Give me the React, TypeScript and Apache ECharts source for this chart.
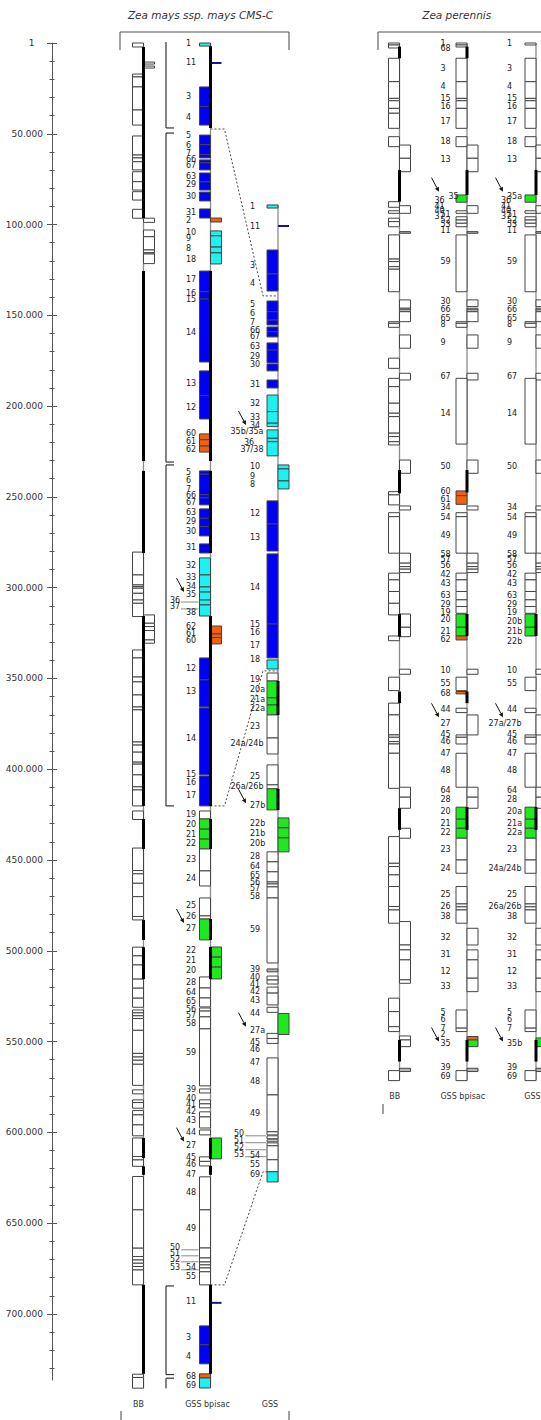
import React, { useEffect, useRef } from "react";
import * as echarts from "echarts";

// ---------- data (genome positions in kb) ----------
type Stack = [string, string, number[]]; // kind (L left box, R right box, K thick line, T thin tick), colour, boundaries
type Label = [number, string, number?]; // kb, text, placement flag

const AXIS_MAX = 736.4;
const majorStep = 50;
const minorStep = 10;

const cmsBB: Stack[] = [
  ["L", "w", [0, 2.2]], ["K", "", [2.2, 96.4]], ["R", "w", [10.5, 11.6]], ["R", "w", [12.7, 13.8]],
  ["L", "w", [17.1, 18.7, 24.2, 36.9, 45.2]], ["L", "w", [51.2, 61.7, 63.3, 65.4, 69.9]],
  ["L", "w", [70.9, 76.4, 81.0]], ["L", "w", [81.9, 86.5]], ["L", "w", [91.6, 96.5]], ["R", "w", [96.5, 98.8]],
  ["R", "w", [103.0, 106.7, 114.0, 115.5, 116.2, 121.5]], ["K", "", [125.6, 230.2]], ["K", "", [235.7, 280.9]],
  ["L", "w", [280.4, 293.0, 298.5, 299.4, 300.3, 303.1, 306.8, 308.6, 315.9]],
  ["R", "w", [315.0, 319.6, 321.4, 323.6, 328.8, 330.6]], ["K", "", [315.6, 420.2]],
  ["L", "w", [334.3, 338.7, 349.2, 351.9, 359.1, 365.7, 367.3, 385.0, 386.7, 390.6, 396.1, 397.2, 403.1, 409.7, 411.4, 420.2]],
  ["L", "w", [423.0, 427.7]], ["K", "", [427.4, 443.9]],
  ["L", "w", [443.4, 455.8, 457.6, 462.8, 470.2, 481.1, 483.0]], ["K", "", [483.0, 494.0]],
  ["L", "w", [498.0, 502.8, 507.8, 515.6, 520.6, 526.1, 531.1]], ["K", "", [498.0, 515.6]],
  ["L", "w", [532.6, 534.2, 535.8, 537.3, 543.8, 556.5, 558.5, 560.3, 562.5, 574.1]],
  ["L", "w", [576.6, 578.8]], ["L", "w", [582.1, 583.6, 586.7]], ["L", "w", [588.0, 590.4, 595.9, 601.9]],
  ["L", "w", [603.1, 614.1]], ["K", "", [603.1, 614.1]], ["L", "w", [613.3, 615.2, 618.7]], ["K", "", [618.7, 623.4]],
  ["L", "w", [624.3, 642.7, 663.8, 668.4, 670.3, 672.1, 673.9, 675.8, 684.0]], ["K", "", [684.0, 733.0]],
  ["L", "w", [733.2, 735.0, 740.9]],
];

const cmsBp: Stack[] = [
  ["L", "c", [0, 1.7]], ["K", "", [1.7, 46.8]], ["T", "n", [11.0]], ["L", "b", [24.2, 35.0, 45.2]],
  ["L", "b", [50.7, 56.0, 61.5, 63.3]], ["L", "b", [64.4, 66.0, 69.9]], ["L", "b", [71.6, 76.5, 81.0]],
  ["L", "b", [82.1, 87.0]], ["L", "b", [91.4, 96.4]], ["R", "o", [96.4, 98.6]],
  ["R", "c", [103.5, 106.2, 112.4, 115.6, 121.7]], ["K", "", [125.6, 230.2]],
  ["L", "b", [125.6, 137.0, 141.0, 175.7]], ["L", "b", [180.6, 194.2, 207.1]], ["L", "o", [215.3, 218.5, 222.0, 225.3]],
  ["L", "b", [235.7, 237.5, 248.8, 250.5, 254.4]], ["L", "b", [256.6, 261.8, 266.4, 271.5]], ["L", "b", [275.9, 280.9]],
  ["K", "", [235.7, 280.9]], ["L", "c", [283.6, 293.0, 299.6, 302.4, 306.8, 309.5, 315.6]],
  ["R", "o", [321.1, 325.5, 327.5, 331.0]], ["K", "", [315.6, 338.7]],
  ["L", "b", [338.7, 350.8, 365.7]], ["L", "b", [366.2, 403.1]], ["L", "b", [403.7, 420.2]], ["K", "", [338.7, 420.2]],
  ["L", "w", [423.0, 427.4]], ["L", "g", [427.4, 433.0, 438.5, 443.9]], ["K", "", [427.4, 443.9]],
  ["L", "w", [443.9, 456.0, 464.3]], ["L", "w", [470.9, 480.8, 482.5]], ["L", "g", [482.5, 494.0]], ["K", "", [482.5, 494.0]],
  ["R", "g", [497.9, 503.5, 509.0, 515.5]], ["K", "", [497.9, 515.5]],
  ["L", "w", [514.4, 520.5, 526.0, 530.9]], ["L", "w", [531.5, 533.2, 536.4, 543.0, 574.4]],
  ["L", "w", [576.1, 578.3]], ["L", "w", [582.1, 584.3, 586.5]], ["L", "w", [588.7, 591.5, 597.6]], ["L", "w", [598.7, 601.4]],
  ["R", "g", [603.1, 614.6]], ["K", "", [603.1, 614.6]], ["L", "w", [613.5, 616.0, 618.5]], ["K", "", [618.5, 623.4]],
  ["L", "w", [624.5, 642.7, 663.7]], ["L", "w", [663.7, 669.2, 671.4, 673.0, 674.7, 676.8, 684.0]],
  ["K", "", [684.0, 733.0]], ["T", "n", [693.9]], ["L", "b", [706.6, 717.0, 727.5]],
  ["L", "o", [733.0, 735.3]], ["L", "c", [735.3, 740.8]],
];

const cmsGss: Stack[] = [
  ["L", "c", [89.2, 90.9]], ["T", "n", [100.8]], ["L", "b", [114.0, 127.2, 136.6]],
  ["L", "b", [142.1, 148.0, 152.6, 155.3]], ["L", "b", [156.4, 159.0, 161.9]], ["L", "b", [165.2, 169.1, 176.2]],
  ["L", "b", [176.8, 180.6]], ["L", "b", [185.6, 190.0]], ["L", "c", [193.9, 203.0, 209.4, 211.3]],
  ["L", "c", [213.1, 217.7, 219.6, 227.4]], ["R", "c", [232.4, 234.6, 241.2, 245.6]],
  ["L", "b", [252.2, 264.9, 279.8]], ["L", "b", [281.4, 320.0, 338.7]], ["L", "c", [339.8, 344.8]],
  ["L", "w", [347.0, 351.4]], ["L", "g", [351.4, 360.7, 364.6, 370.1]], ["K", "", [351.4, 370.1]],
  ["L", "w", [370.1, 382.8]], ["L", "w", [382.8, 391.6]], ["L", "w", [397.6, 408.6, 410.8]],
  ["L", "g", [410.8, 422.4]], ["K", "", [410.8, 422.4]], ["R", "g", [426.8, 432.3, 437.8, 445.5]],
  ["L", "w", [445.5, 451.0, 456.5, 462.1, 463.2, 464.8, 470.9, 506.7]], ["L", "s", [510.0, 511.6]],
  ["L", "w", [513.9, 516.1, 518.3]], ["L", "w", [520.0, 523.3, 529.8]], ["L", "w", [531.1, 533.9]],
  ["R", "g", [534.5, 546.1]], ["L", "w", [545.5, 548.3, 551.0]], ["L", "w", [559.0, 579.4, 599.7]],
  ["L", "w", [599.7, 601.4]], ["L", "w", [601.9, 603.5]], ["L", "w", [604.1, 605.2]],
  ["L", "w", [605.8, 607.4, 615.1, 621.7]], ["L", "c", [621.7, 627.3]],
];

const perBB: Stack[] = [
  ["L", "w", [0, 1.1, 2.75]], ["K", "", [2.0, 8.4]], ["L", "w", [8.4, 21.3, 30.5, 31.8, 36.0, 38.7, 47.0]],
  ["L", "w", [51.6, 57.1]], ["R", "w", [56.2, 63.5, 70.9]], ["K", "", [70.0, 87.4]], ["L", "w", [87.4, 90.5]],
  ["R", "w", [89.6, 93.8]], ["L", "w", [92.4, 93.8]], ["L", "w", [96.5, 98.4, 101.2]], ["R", "s", [103.9, 104.8]],
  ["L", "w", [105.7, 119.0, 120.4, 123.2, 124.6, 137.0]], ["R", "w", [141.5, 146.1, 147.0, 148.0, 153.5]],
  ["L", "w", [153.5, 154.4, 156.6]], ["R", "w", [160.8, 168.1]], ["L", "w", [173.6, 179.2]], ["R", "w", [181.9, 185.6]],
  ["L", "w", [184.7, 189.3, 198.4, 203.9, 205.8, 214.9, 216.8, 219.6, 221.4]], ["R", "w", [229.7, 237.0]],
  ["K", "", [235.2, 248.0]], ["L", "w", [247.1, 248.9, 254.4]], ["R", "w", [255.0, 257.2]],
  ["L", "w", [258.7, 260.9, 281.0]], ["R", "w", [281.0, 286.5, 288.4, 289.8, 291.7]],
  ["L", "w", [292.0, 295.7, 302.1, 308.6, 315.0]], ["R", "w", [314.5, 321.8, 327.0]], ["K", "", [314.5, 327.0]],
  ["L", "w", [326.6, 329.2]], ["R", "w", [344.9, 347.7]], ["L", "w", [349.3, 356.7]], ["K", "", [357.2, 363.6]],
  ["L", "w", [363.6, 370.1, 381.1, 382.4, 384.8, 386.1, 391.2, 410.5]], ["R", "w", [409.9, 415.4, 421.5]],
  ["K", "", [421.5, 433.4]], ["R", "w", [432.5, 438.0]],
  ["L", "w", [437.1, 451.8, 453.6, 458.2, 464.6, 475.6, 477.5, 484.8]],
  ["R", "w", [483.9, 496.8, 499.5, 505.0, 516.0, 517.9]], ["L", "w", [526.1, 533.5, 541.8, 544.5]],
  ["R", "w", [546.9, 549.1, 552.8]], ["K", "", [549.1, 561.0]], ["R", "s", [564.7, 566.5]], ["L", "w", [566.0, 571.5]],
];

const perBp: Stack[] = [
  ["L", "w", [0, 1.1, 2.2]], ["K", "", [2.0, 8.4]], ["L", "w", [8.4, 21.3, 30.5, 31.8, 36.0, 47.0]],
  ["L", "w", [51.6, 57.1]], ["R", "w", [56.2, 63.5, 70.9]], ["K", "", [69.9, 83.7]], ["L", "g", [83.7, 87.7]],
  ["R", "w", [89.6, 93.8]], ["L", "w", [92.4, 93.8]], ["L", "w", [95.7, 97.5, 99.3, 101.2]], ["R", "s", [103.9, 104.8]],
  ["L", "w", [105.7, 137.0]], ["R", "w", [141.5, 145.2]], ["R", "w", [146.1, 147.0, 148.0, 153.5]],
  ["L", "w", [153.5, 154.4, 156.6]], ["R", "w", [160.8, 168.1]], ["R", "w", [181.9, 185.6]], ["L", "w", [184.7, 220.9]],
  ["R", "w", [229.7, 237.0]], ["K", "", [235.2, 247.6]], ["L", "o", [246.7, 249.3, 254.1]], ["R", "w", [255.0, 257.2]],
  ["L", "w", [258.7, 260.9, 281.0]], ["R", "w", [281.0, 286.5, 288.4, 289.8, 291.7]],
  ["L", "w", [292.0, 295.7, 302.1, 306.7, 310.4, 314.1]], ["L", "g", [314.5, 321.8, 326.6]], ["K", "", [314.5, 326.6]],
  ["L", "o", [326.6, 328.8]], ["R", "w", [344.9, 347.7]], ["L", "w", [349.3, 356.7]], ["L", "o", [357.2, 358.5]],
  ["K", "", [357.2, 363.6]], ["L", "w", [366.4, 368.8]], ["R", "w", [370.1, 381.1]], ["L", "w", [381.1, 382.4, 386.1]],
  ["L", "w", [391.2, 409.9]], ["R", "w", [409.9, 415.4, 421.5]], ["L", "g", [420.9, 427.5, 432.5, 438.0]],
  ["K", "", [420.9, 433.4]], ["L", "w", [438.0, 450.0, 457.3]], ["L", "w", [464.6, 474.2, 475.8, 477.5, 484.8]],
  ["R", "w", [487.6, 496.8]], ["R", "w", [499.5, 505.0, 515.1, 522.5]], ["L", "w", [532.6, 542.6, 544.5]],
  ["R", "o", [547.2, 549.1]], ["R", "g", [549.1, 552.8]], ["K", "", [549.1, 561.0]], ["R", "s", [564.7, 566.5]],
  ["L", "w", [566.0, 571.5]],
];

const perGss: Stack[] = [
  ["L", "w", [0, 1.1]], ["L", "w", [8.4, 21.3, 30.5, 31.8, 36.0, 47.0]],
  ["L", "w", [51.6, 57.1]], ["R", "w", [56.2, 63.5, 70.9]], ["K", "", [69.9, 83.7]], ["L", "g", [83.7, 87.7]],
  ["R", "w", [89.6, 93.8]], ["L", "w", [92.4, 93.8]], ["L", "w", [95.7, 97.5, 99.3, 101.2]], ["R", "s", [103.9, 104.8]],
  ["L", "w", [105.7, 137.0]], ["R", "w", [141.5, 145.2]], ["R", "w", [146.1, 147.0, 148.0, 153.5]],
  ["L", "w", [153.5, 154.4, 156.6]], ["R", "w", [160.8, 168.1]], ["R", "w", [181.9, 185.6]], ["L", "w", [184.7, 220.9]],
  ["R", "w", [229.7, 237.0]], ["R", "w", [255.0, 257.2]],
  ["L", "w", [258.7, 260.9, 281.0]], ["R", "w", [281.0, 286.5, 288.4, 289.8, 291.7]],
  ["L", "w", [292.0, 295.7, 302.1, 306.7, 310.4, 314.1]], ["L", "g", [314.5, 321.8, 326.6]], ["K", "", [314.5, 326.6]],
  ["R", "w", [344.9, 347.7]], ["L", "w", [349.3, 356.7]],
  ["L", "w", [366.4, 368.8]], ["R", "w", [370.1, 381.1]], ["L", "w", [381.1, 382.4, 386.1]],
  ["L", "w", [391.2, 409.9]], ["R", "w", [409.9, 415.4, 421.5]], ["L", "g", [420.9, 427.5, 432.5, 438.0]],
  ["K", "", [420.9, 433.4]], ["L", "w", [438.0, 450.0, 457.3]], ["L", "w", [464.6, 474.2, 475.8, 477.5, 484.8]],
  ["R", "w", [487.6, 496.8]], ["R", "w", [499.5, 505.0, 515.1, 522.5]], ["L", "w", [532.6, 542.6, 544.5]],
  ["R", "g", [548.0, 552.8]], ["K", "", [549.1, 561.0]], ["R", "s", [564.7, 566.5]],
  ["L", "w", [566.0, 571.5]],
];

const cmsBpLabels: Label[] = [
  [0, "1"], [11.0, "11"], [29.7, "3"], [41.3, "4"], [50.7, "5"], [56.2, "6"], [61.1, "7"], [63.9, "66"], [67.2, "67"],
  [73.8, "63"], [78.2, "29"], [84.3, "30"], [93.1, "31"], [98.0, "2"], [104.1, "10"], [107.9, "9"], [113.4, "8"],
  [119.5, "18"], [130.5, "17"], [137.7, "16"], [141.5, "15"], [159.7, "14"], [187.8, "13"], [201.0, "12"],
  [215.3, "60"], [219.7, "61"], [224.1, "62"], [236.3, "5"], [241.2, "6"], [246.2, "7"], [249.5, "66"], [253.3, "67"],
  [258.8, "63"], [263.8, "29"], [269.3, "30"], [277.6, "31"], [288.0, "32"], [294.6, "33"], [299.6, "34"], [304.0, "35"],
  [306.8, "36", 1], [310.6, "37", 1], [313.9, "38"], [321.6, "62"], [325.5, "61"], [329.3, "60"], [344.7, "12"],
  [357.4, "13"], [383.3, "14"], [403.1, "15"], [407.5, "16"], [414.7, "17"], [425.2, "19"], [430.7, "20"], [436.2, "21"],
  [441.1, "22"], [449.9, "23"], [460.4, "24"], [475.3, "25"], [481.3, "26"], [487.9, "27"], [500.1, "22"], [505.6, "21"],
  [511.1, "20"], [517.7, "28"], [523.2, "64"], [528.1, "65"], [532.5, "56"], [535.8, "57"], [540.2, "58"], [556.2, "59"],
  [576.6, "39"], [581.5, "40"], [584.9, "41"], [588.7, "42"], [593.7, "43"], [600.3, "44"], [607.4, "27"], [614.0, "45"],
  [617.9, "46"], [623.4, "47"], [633.3, "48"], [653.1, "49"], [663.6, "50", 1], [666.9, "51", 1], [670.2, "52", 1],
  [674.6, "53", 1], [674.6, "54"], [679.6, "55"], [693.4, "11"], [713.2, "3"], [723.7, "4"], [734.2, "68"], [739.2, "69"],
];

const cmsGssLabels: Label[] = [
  [90.3, "1"], [100.8, "11"], [122.3, "3"], [132.2, "4"], [144.3, "5"], [149.2, "6"], [154.2, "7"], [158.1, "66"],
  [161.9, "67"], [167.4, "63"], [172.9, "29"], [177.3, "30"], [188.3, "31"], [198.3, "32"], [206.0, "33"], [210.4, "34"],
  [214.2, "35b/35a"], [220.3, "36", 2], [224.1, "37/38"], [233.5, "10"], [238.5, "9"], [243.4, "8"], [259.4, "12"],
  [272.1, "13"], [300.1, "14"], [320.5, "15"], [324.9, "16"], [332.1, "17"], [339.8, "18"], [350.8, "19"],
  [356.3, "20a"], [361.8, "21a"], [366.8, "22a"], [376.2, "23"], [386.1, "24a/24b"], [404.2, "25"], [409.7, "26a/26b"],
  [420.2, "27b"], [430.1, "22b"], [435.6, "21b"], [441.1, "20b"], [448.3, "28"], [453.8, "64"], [458.8, "65"],
  [462.6, "56"], [465.9, "57"], [470.3, "58"], [488.5, "59"], [510.5, "39"], [514.9, "40"], [518.8, "41"], [522.6, "42"],
  [527.6, "43"], [534.8, "44"], [544.1, "27a"], [550.7, "45"], [554.6, "46"], [561.7, "47"], [572.2, "48"], [589.8, "49"],
  [600.8, "50", 1], [604.6, "51", 1], [608.5, "52", 1], [612.3, "53", 1], [612.9, "54"], [617.9, "55"], [623.4, "69"],
];

const perBpLabels: Label[] = [
  [0, "1"], [2.8, "68"], [13.8, "3"], [24.2, "4"], [30.3, "15"], [35.2, "16"], [43.0, "17"], [54.5, "18"], [63.9, "13"],
  [84.3, "35", 3], [86.5, "36", 2], [89.8, "41", 2], [92.5, "40", 2], [95.3, "37", 2], [94.7, "51"], [97.5, "52"],
  [100.2, "53"], [103.0, "11"], [120.6, "59"], [142.6, "30"], [147.0, "66"], [151.5, "65"], [155.3, "8"], [164.7, "9"],
  [183.9, "67"], [204.3, "14"], [233.0, "50"], [247.3, "60"], [251.7, "61"], [256.1, "34"], [261.1, "54"], [271.0, "49"],
  [282.0, "58"], [284.7, "57"], [288.0, "56"], [293.0, "42"], [297.9, "43"], [304.5, "63"], [309.0, "29"], [313.4, "19"],
  [317.8, "20"], [324.4, "21"], [328.8, "62"], [345.8, "10"], [353.0, "55"], [358.5, "68"], [367.3, "44"], [375.0, "27"],
  [381.1, "45"], [384.9, "46"], [391.6, "47"], [400.9, "48"], [411.9, "64"], [416.9, "28"], [423.5, "20"], [430.1, "21"],
  [435.1, "22"], [444.4, "23"], [454.4, "24"], [469.2, "25"], [475.8, "26"], [481.3, "38"], [492.9, "32"], [502.3, "31"],
  [511.6, "12"], [519.9, "33"], [534.2, "5"], [538.1, "6"], [543.0, "7"], [546.3, "2"], [551.3, "35"], [564.5, "39"],
  [569.4, "69"],
];

const perGssLabels: Label[] = [
  [0, "1"], [13.8, "3"], [24.2, "4"], [30.3, "15"], [35.2, "16"], [43.0, "17"], [54.5, "18"], [63.9, "13"],
  [84.3, "35a"], [86.5, "36", 2], [89.8, "41", 2], [92.5, "40", 2], [95.3, "37", 2], [94.7, "51"], [97.5, "52"],
  [100.2, "53"], [103.0, "11"], [120.6, "59"], [142.6, "30"], [147.0, "66"], [151.5, "65"], [155.3, "8"], [164.7, "9"],
  [183.9, "67"], [204.3, "14"], [233.0, "50"], [256.1, "34"], [261.1, "54"], [271.0, "49"],
  [282.0, "58"], [284.7, "57"], [288.0, "56"], [293.0, "42"], [297.9, "43"], [304.5, "63"], [309.0, "29"], [313.4, "19"],
  [318.7, "20b"], [324.2, "21b"], [329.7, "22b"], [345.8, "10"], [353.0, "55"], [367.3, "44"], [375.0, "27a/27b"],
  [381.1, "45"], [384.9, "46"], [391.6, "47"], [400.9, "48"], [411.9, "64"], [416.9, "28"], [423.5, "20a"], [430.1, "21a"],
  [435.1, "22a"], [444.4, "23"], [454.4, "24a/24b"], [469.2, "25"], [475.8, "26a/26b"], [481.3, "38"], [492.9, "32"],
  [502.3, "31"], [511.6, "12"], [519.9, "33"], [534.2, "5"], [538.1, "6"], [543.0, "7"], [551.3, "35b"], [564.5, "39"],
  [569.4, "69"],
];

const cmsBpArrows = [302.4, 484.7, 605.1];
const cmsGssArrows = [210.4, 418.7, 541.8];
const perBpArrows = [81.9, 371.4, 550.0];
const perGssArrows = [81.9, 371.4, 550.0];

// dotted connectors: [kb on GSS bpisac, kb on GSS]
const connectors: [number, number][] = [[47.4, 139.3], [420.2, 345.8], [684.0, 621.7]];
// repeat brackets: [start, end, top tick, bottom tick]
const brackets: [number, number, number, number][] = [
  [-0.5, 46.8, 0, 1], [49.6, 230.8, 1, 1], [232.4, 420.2, 1, 1], [684.6, 733.4, 1, 1], [735.4, 740.9, 1, 0],
];

// ---------- layout / style ----------
const COLORS: Record<string, string> = {
  w: "#ffffff", b: "#0000f2", c: "#1cf2f2", g: "#1ee81e", o: "#f2600f", n: "#14148c", s: "#b4b4b4",
};
const FONT = "DejaVu Sans";
const BOX_W = 11;
const COLS = [
  { x: 143.5, span: [0, 740.9], stacks: cmsBB },
  { x: 210.5, span: [0, 740.8], stacks: cmsBp, labels: cmsBpLabels, lblLeft: -24.5, arrows: cmsBpArrows, arrowDx: -26.5 },
  { x: 278, span: [89.2, 627.3], stacks: cmsGss, labels: cmsGssLabels, lblLeft: -28, lblRight: -14.5, arrows: cmsGssArrows, arrowDx: -32 },
  { x: 399.5, span: [0, 571.5], stacks: perBB },
  { x: 467, span: [0, 571.5], stacks: perBp, labels: perBpLabels, lblLeft: -26.5, arrows: perBpArrows, arrowDx: -28 },
  { x: 536, span: [0, 571.5], stacks: perGss, labels: perGssLabels, lblLeft: -29, lblRight: -14.5, arrows: perGssArrows, arrowDx: -33 },
];

type Item = { k: string; c: string; y0: number; y1: number };
function flatten(stacks: Stack[]): Item[] {
  const boxes: Item[] = [];
  const blacks: Item[] = [];
  for (const [k, c, b] of stacks) {
    if (k === "K") blacks.push({ k, c, y0: b[0], y1: b[1] });
    else if (k === "T") boxes.push({ k, c, y0: b[0], y1: b[0] });
    else for (let i = 0; i < b.length - 1; i++) boxes.push({ k, c, y0: b[i], y1: b[i + 1] });
  }
  return [...boxes, ...blacks];
}

function columnSeries(col: any) {
  const items: Item[] = [{ k: "A", c: "", y0: col.span[0], y1: col.span[1] }, ...flatten(col.stacks)];
  return {
    type: "custom", xAxisIndex: 0, yAxisIndex: 0, clip: false, silent: true,
    encode: { x: 0, y: [1, 2] },
    data: items.map((it) => [col.x, it.y0, it.y1]),
    renderItem: (params: any, api: any) => {
      const it = items[params.dataIndex];
      const a = api.coord([col.x, it.y0]);
      const b = api.coord([col.x, it.y1]);
      const cx = a[0];
      if (it.k === "A")
        return { type: "line", shape: { x1: cx, y1: a[1], x2: cx, y2: b[1] }, style: { stroke: "#8c8c8c", lineWidth: 1.3 } };
      if (it.k === "K")
        return { type: "line", shape: { x1: cx, y1: a[1], x2: cx, y2: b[1] }, style: { stroke: "#000", lineWidth: 3 } };
      if (it.k === "T")
        return { type: "line", shape: { x1: cx, y1: a[1], x2: cx + BOX_W, y2: a[1] }, style: { stroke: COLORS[it.c], lineWidth: 2 } };
      const x0 = it.k === "L" ? cx - BOX_W : cx;
      return {
        type: "rect",
        shape: { x: x0, y: a[1], width: BOX_W, height: Math.max(b[1] - a[1], 1) },
        style: { fill: COLORS[it.c], stroke: "#444", lineWidth: 1 },
      };
    },
  };
}

function labelSeries(col: any) {
  const labels: Label[] = col.labels;
  return {
    type: "custom", xAxisIndex: 0, yAxisIndex: 0, clip: false, silent: true,
    encode: { x: 0, y: 1 },
    data: labels.map((l) => [col.x, l[0]]),
    renderItem: (params: any, api: any) => {
      const l = labels[params.dataIndex];
      const p = api.coord([col.x, l[0]]);
      const cx = p[0];
      const py = p[1];
      const text = l[1];
      const flag = l[2] || 0;
      let x = cx + col.lblLeft;
      let align = "left";
      if (col.lblRight !== undefined && text.length >= 5) {
        x = cx + col.lblRight;
        align = "right";
      }
      if (flag === 1) x -= 16;
      if (flag === 2) x -= 6;
      if (flag === 3) x += 8;
      const children: any[] = [
        {
          type: "text", x, y: py,
          style: { text, fill: "#222", fontSize: 8, fontFamily: FONT, align, textAlign: align, verticalAlign: "middle", textVerticalAlign: "middle" },
        },
      ];
      if (flag === 1) {
        const w = text.length * 5.1;
        children.push({ type: "line", shape: { x1: x + w + 1, y1: py + 2, x2: cx - BOX_W - 1, y2: py + 2 }, style: { stroke: "#555", lineWidth: 0.7 } });
      }
      return { type: "group", children };
    },
  };
}

function arrowSeries(col: any) {
  const arrows: number[] = col.arrows;
  return {
    type: "custom", xAxisIndex: 0, yAxisIndex: 0, clip: false, silent: true,
    encode: { x: 0, y: 1 },
    data: arrows.map((y) => [col.x, y]),
    renderItem: (params: any, api: any) => {
      const p = api.coord([col.x, arrows[params.dataIndex]]);
      const tx = p[0] + col.arrowDx;
      const ty = p[1];
      const ux = 0.474, uy = 0.88;
      const bx = tx - 4.5 * ux, by = ty - 4.5 * uy;
      return {
        type: "group",
        children: [
          { type: "line", shape: { x1: tx - 7.5, y1: ty - 14, x2: bx, y2: by }, style: { stroke: "#111", lineWidth: 1 } },
          { type: "polygon", shape: { points: [[tx, ty], [bx - 2.2 * uy, by + 2.2 * ux], [bx + 2.2 * uy, by - 2.2 * ux]] }, style: { fill: "#111" } },
        ],
      };
    },
  };
}

const connectorSeries = {
  type: "custom", xAxisIndex: 0, yAxisIndex: 0, clip: false, silent: true,
  encode: { x: 0, y: [1, 2] },
  data: connectors.map((c) => [210.5, c[0], c[1]]),
  renderItem: (params: any, api: any) => {
    const c = connectors[params.dataIndex];
    const a = api.coord([210.5, c[0]]);
    const b = api.coord([278, c[1]]);
    return {
      type: "polyline",
      shape: { points: [[a[0], a[1]], [a[0] + 14, a[1]], [b[0] - 15, b[1]], [b[0], b[1]]] },
      style: { stroke: "#333", lineWidth: 0.9, lineDash: [2, 2], fill: "none" },
    };
  },
};

const bracketSeries = {
  type: "custom", xAxisIndex: 0, yAxisIndex: 0, clip: false, silent: true,
  encode: { x: 0, y: [1, 2] },
  data: brackets.map((b) => [166, b[0], b[1]]),
  renderItem: (params: any, api: any) => {
    const b = brackets[params.dataIndex];
    const a = api.coord([166, b[0]]);
    const e = api.coord([166, b[1]]);
    const st = { stroke: "#333", lineWidth: 1.2 };
    const ch: any[] = [{ type: "line", shape: { x1: a[0], y1: a[1], x2: a[0], y2: e[1] }, style: st }];
    if (b[2]) ch.push({ type: "line", shape: { x1: a[0], y1: a[1], x2: a[0] + 8, y2: a[1] }, style: st });
    if (b[3]) ch.push({ type: "line", shape: { x1: a[0], y1: e[1], x2: a[0] + 8, y2: e[1] }, style: st });
    return { type: "group", children: ch };
  },
};

const PXK = 1337 / AXIS_MAX;

function txt(x: number, y: number, text: string, size: number, italic = false) {
  return {
    type: "text", x, y, silent: true,
    style: { text, fill: "#333", fontSize: size, fontFamily: FONT, fontStyle: italic ? "italic" : "normal", align: "center", textAlign: "center", verticalAlign: "middle", textVerticalAlign: "middle" },
  };
}
function ln(x1: number, y1: number, x2: number, y2: number) {
  return { type: "line", silent: true, shape: { x1, y1, x2, y2 }, style: { stroke: "#555", lineWidth: 1.1 } };
}

export default function App() {
  const ref = useRef<HTMLDivElement>(null);
  useEffect(() => {
    document.body.style.margin = "0";
    const chart = echarts.init(ref.current!, null, { renderer: "svg" });
    const hiddenX = (gridIndex: number, min: number, max: number) => ({ type: "value", gridIndex, min, max, show: false });
    const option: any = {
      animation: false,
      textStyle: { fontFamily: FONT },
      grid: [
        { left: 52, right: 0, top: 43, height: 1337 },
        { left: 52, width: 10, top: 43, height: 700 * PXK },
        { left: 52, width: 10, top: 43, height: 730 * PXK },
      ],
      xAxis: [hiddenX(0, 52, 541), hiddenX(1, 0, 1), hiddenX(2, 0, 1)],
      yAxis: [
        { type: "value", gridIndex: 0, min: 0, max: AXIS_MAX, inverse: true, position: "left",
          axisLine: { show: true, lineStyle: { color: "#555", width: 1 } }, axisTick: { show: false }, axisLabel: { show: false }, splitLine: { show: false } },
        { type: "value", gridIndex: 1, min: 0, max: 700, interval: majorStep, inverse: true, position: "left",
          axisLine: { show: false }, axisTick: { show: true, length: 5, lineStyle: { color: "#555" } }, splitLine: { show: false },
          axisLabel: { show: true, fontSize: 9, color: "#333", margin: 9, fontFamily: FONT,
            formatter: (v: number) => (v === 0 ? "1\u00a0\u00a0\u00a0" : v.toFixed(3)) } },
        { type: "value", gridIndex: 1, min: 0, max: 700, interval: majorStep, inverse: true, position: "left",
          axisLine: { show: false }, axisTick: { show: true, inside: true, length: 5, lineStyle: { color: "#555" } },
          axisLabel: { show: false }, splitLine: { show: false } },
        { type: "value", gridIndex: 2, min: 0, max: 730, interval: minorStep, inverse: true, position: "left",
          axisLine: { show: false }, axisTick: { show: true, length: 2.5, lineStyle: { color: "#555" } },
          axisLabel: { show: false }, splitLine: { show: false } },
        { type: "value", gridIndex: 2, min: 0, max: 730, interval: minorStep, inverse: true, position: "left",
          axisLine: { show: false }, axisTick: { show: true, inside: true, length: 2.5, lineStyle: { color: "#555" } },
          axisLabel: { show: false }, splitLine: { show: false } },
      ],
      graphic: [
        txt(200.5, 15, "Zea mays ssp. mays CMS-C", 10.5, true),
        txt(456.7, 15, "Zea perennis", 10.5, true),
        ln(120, 32, 289, 32), ln(120, 32, 120, 50), ln(289, 32, 289, 50),
        ln(121, 1411, 121, 1420), ln(289, 1411, 289, 1420),
        ln(378, 32, 541, 32), ln(378, 32, 378, 50),
        ln(383, 1104, 383, 1114),
        txt(138.5, 1404, "BB", 8), txt(207.5, 1404, "GSS bpisac", 8), txt(270, 1404, "GSS", 8),
        txt(394.7, 1096.5, "BB", 8), txt(462.8, 1096.5, "GSS bpisac", 8), txt(532.5, 1096.5, "GSS", 8),
      ],
      series: [
        bracketSeries,
        connectorSeries,
        ...COLS.map(columnSeries),
        ...COLS.filter((c: any) => c.labels).map(labelSeries),
        ...COLS.filter((c: any) => c.arrows).map(arrowSeries),
      ],
    };
    chart.setOption(option);
    return () => chart.dispose();
  }, []);
  return <div ref={ref} style={{ width: 541, height: 1420 }} />;
}
